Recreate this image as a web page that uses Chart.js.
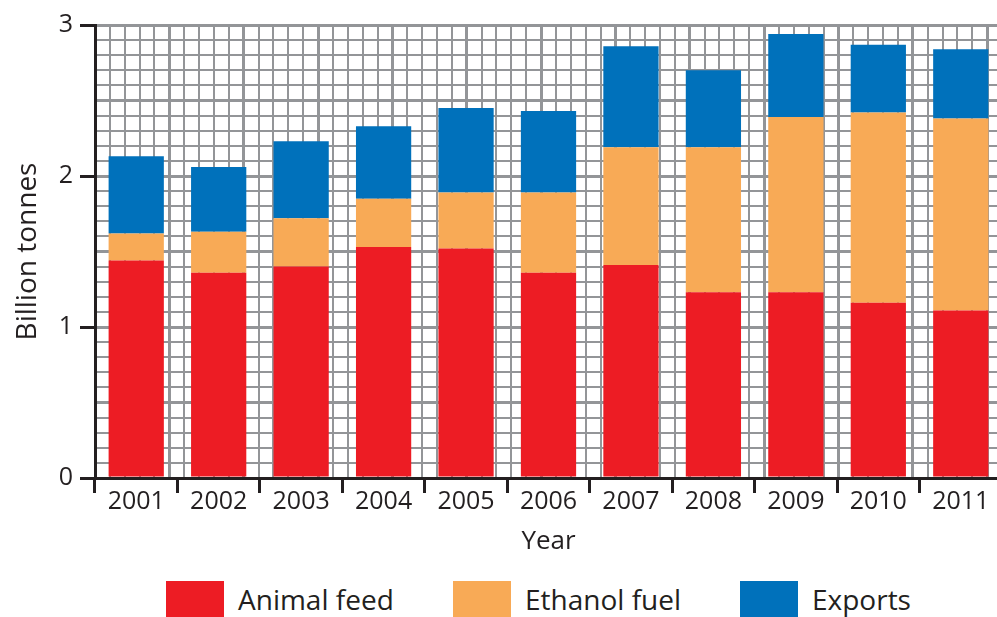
<!DOCTYPE html>
<html>
<head>
<meta charset="utf-8">
<script src="https://cdn.jsdelivr.net/npm/chart.js@4.4.1/dist/chart.umd.min.js"></script>
<style>
  html, body { margin: 0; padding: 0; background: #fff; overflow: hidden; }
  #wrap { position: relative; width: 997px; height: 617px; overflow: hidden; }
  #chartBox { position: absolute; left: 0; top: 0; width: 1002px; height: 562px; }
  #legend { position: absolute; left: 166px; top: 581px; display: flex; font-family: "Open Sans", sans-serif; font-size: 28px; color: #231f20; }
  .legend-item { width: 287px; display: flex; align-items: center; height: 36px; }
  .legend-box { width: 58px; height: 36px; margin-right: 14px; flex: none; }
</style>
</head>
<body>
<div id="wrap">
  <div id="chartBox"><canvas id="chart"></canvas></div>
  <div id="legend"></div>
</div>
<script>
const years = ['2001', '2002', '2003', '2004', '2005', '2006', '2007', '2008', '2009', '2010', '2011'];

// segment heights (billion tonnes), stacked bottom to top
const animalFeed = [1.44, 1.36, 1.40, 1.53, 1.52, 1.36, 1.41, 1.23, 1.23, 1.16, 1.11];
const ethanolFuel = [0.18, 0.27, 0.32, 0.32, 0.37, 0.53, 0.78, 0.96, 1.16, 1.26, 1.27];
const exportsVals = [0.51, 0.43, 0.51, 0.48, 0.56, 0.54, 0.67, 0.51, 0.55, 0.45, 0.46];

const yTicks = [0, 1, 2, 3];

const SERIES = [
    { label: 'Animal feed', data: animalFeed, color: '#ED1C24' },
    { label: 'Ethanol fuel', data: ethanolFuel, color: '#F8AA56' },
    { label: 'Exports', data: exportsVals, color: '#0071BB' }
];

const GRID = '#939598';
const INK = '#231f20';
const FONT = '"Open Sans", sans-serif';

function isMultiple(v, step) {
    const r = v / step;
    return Math.abs(r - Math.round(r)) < 1e-6;
}

function isYTick(c) {
    return !!c.tick && yTicks.some(t => Math.abs(c.tick.value - t) < 1e-6);
}

const ctx = document.getElementById('chart');

new Chart(ctx, {
    type: 'bar',
    data: {
        labels: years,
        datasets: SERIES.map(s => ({
            label: s.label,
            data: s.data,
            backgroundColor: s.color,
            borderWidth: 0,
            categoryPercentage: 1,
            barPercentage: 0.67,
            xAxisID: 'x',
            yAxisID: 'y'
        }))
    },
    options: {
        responsive: true,
        maintainAspectRatio: false,
        animation: false,
        layout: { padding: { top: 25, left: 0, right: 0, bottom: 0 } },
        plugins: {
            legend: { display: false },
            tooltip: { enabled: false }
        },
        scales: {
            x: {
                type: 'category',
                stacked: true,
                position: 'bottom',
                offset: true,
                border: { display: true, color: INK, width: 3 },
                grid: {
                    offset: true,
                    drawOnChartArea: false,
                    drawTicks: true,
                    tickLength: 15,
                    tickColor: INK,
                    tickWidth: 3
                },
                ticks: {
                    color: INK,
                    font: { family: FONT, size: 25 },
                    padding: -6,
                    maxRotation: 0
                },
                title: {
                    display: true,
                    text: 'Year',
                    color: INK,
                    font: { family: FONT, size: 26 },
                    padding: { top: 0, bottom: 5 }
                },
                afterFit: scale => { scale.height = 562 - 478; }
            },
            // hidden linear scale that only draws the vertical graph-paper lines
            xGrid: {
                type: 'linear',
                position: 'top',
                min: 0,
                max: 60,
                border: { display: false },
                grid: {
                    color: GRID,
                    drawTicks: false,
                    lineWidth: c => (c.tick && isMultiple(c.tick.value, 5) ? 3 : 2)
                },
                ticks: { display: false, stepSize: 1, autoSkip: false },
                afterFit: scale => { scale.height = 0; }
            },
            y: {
                type: 'linear',
                stacked: true,
                min: 0,
                max: 3,
                border: { display: true, color: INK, width: 3 },
                grid: {
                    color: GRID,
                    lineWidth: c => (c.tick && isMultiple(c.tick.value, 0.5) ? 3 : 2),
                    drawTicks: true,
                    tickLength: 15,
                    tickWidth: 3,
                    tickColor: c => (isYTick(c) ? INK : 'rgba(0,0,0,0)')
                },
                ticks: {
                    stepSize: 0.1,
                    autoSkip: false,
                    color: INK,
                    padding: 7,
                    font: { family: FONT, size: 25 },
                    callback: v => {
                        const hit = yTicks.find(t => Math.abs(v - t) < 1e-6);
                        return hit === undefined ? '' : String(hit);
                    }
                },
                title: {
                    display: true,
                    text: 'Billion tonnes',
                    color: INK,
                    font: { family: FONT, size: 28 },
                    padding: { top: 11, bottom: 0 }
                },
                afterFit: scale => { scale.width = 95; }
            }
        }
    }
});

// custom legend row under the chart
const legendEl = document.getElementById('legend');
legendEl.innerHTML = SERIES.map(s =>
    `<div class="legend-item"><span class="legend-box" style="background:${s.color}"></span>${s.label}</div>`
).join('');
</script>
</body>
</html>
